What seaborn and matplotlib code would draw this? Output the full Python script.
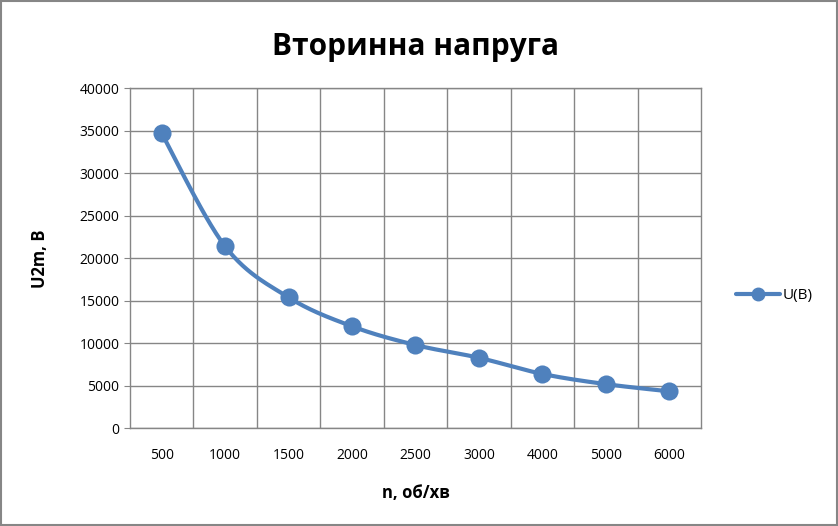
import numpy as np
import pandas as pd
import matplotlib
matplotlib.use("Agg")
import matplotlib.pyplot as plt
from matplotlib.lines import Line2D
from matplotlib.patches import Rectangle
from matplotlib.ticker import MultipleLocator, FixedLocator
import seaborn as sns

# data
speed = ["500", "1000", "1500", "2000", "2500", "3000", "4000", "5000", "6000"]
voltage = [34700, 21400, 15400, 12000, 9800, 8300, 6400, 5200, 4350]
series_name = "U(В)"
title = "Вторинна напруга"
x_label = "n, об/хв"
y_label = "U2m, В"

blue = "#4F81BD"
grid_gray = "#868686"

sns.set_style("white")
plt.rcParams["font.family"] = ["Open Sans", "DejaVu Sans"]
plt.rcParams["text.color"] = "black"
plt.rcParams["axes.labelcolor"] = "black"
plt.rcParams["xtick.color"] = "black"
plt.rcParams["ytick.color"] = "black"

df = pd.DataFrame({"pos": np.arange(len(speed)), "U": voltage})


def smooth_curve(x, y, steps=30):
    # excel-like smoothed line (bezier through the points)
    p = np.column_stack([x, y]).astype(float)
    p = np.vstack([p[0], p, p[-1]])
    out = []
    t = np.linspace(0, 1, steps)[:, None]
    for i in range(1, len(p) - 2):
        p0, p1, p2, p3 = p[i - 1], p[i], p[i + 1], p[i + 2]
        c1 = p1 + (p2 - p0) / 6
        c2 = p2 - (p3 - p1) / 6
        seg = ((1 - t) ** 3) * p1 + 3 * ((1 - t) ** 2) * t * c1 + 3 * (1 - t) * t ** 2 * c2 + t ** 3 * p2
        out.append(seg if i == 1 else seg[1:])
    out = np.vstack(out)
    return out[:, 0], out[:, 1]


fig = plt.figure(figsize=(8.38, 5.26), dpi=100)
fig.patches.append(Rectangle((0.0015, 0.002), 0.997, 0.996, transform=fig.transFigure,
                             fill=False, edgecolor="#868686", linewidth=1.5))
ax = fig.add_axes([0.1551, 0.1857, 0.6814, 0.6464])

sx, sy = smooth_curve(df["pos"].values, df["U"].values)
sns.lineplot(x=sx, y=sy, sort=False, estimator=None, color=blue, linewidth=3, ax=ax)
sns.scatterplot(data=df, x="pos", y="U", color=blue, s=170, edgecolor=blue, linewidth=0, ax=ax, zorder=3)

ax.set_xlim(-0.5, len(speed) - 0.5)
ax.set_ylim(0, 40000)
ax.yaxis.set_major_locator(MultipleLocator(5000))
ax.xaxis.set_major_locator(FixedLocator(df["pos"].values))
ax.set_xticklabels(speed)
ax.xaxis.set_minor_locator(FixedLocator(np.arange(len(speed) - 1) + 0.5))

ax.grid(axis="y", which="major", color=grid_gray, linewidth=1)
ax.grid(axis="x", which="minor", color=grid_gray, linewidth=1)
ax.set_axisbelow(True)
for s in ax.spines.values():
    s.set_color(grid_gray)
    s.set_linewidth(1)

ax.tick_params(axis="y", which="major", left=True, length=4.5, color=grid_gray,
               labelcolor="black", labelsize=10, pad=3)
ax.tick_params(axis="x", which="both", bottom=False, labelcolor="black", labelsize=10, pad=11)

ax.set_title(title, fontsize=21.5, fontweight="bold", pad=24, color="black")
ax.set_xlabel(x_label, fontsize=12, fontweight="bold", labelpad=15)
ax.set_ylabel(y_label, fontsize=12, fontweight="bold", labelpad=22)

handle = Line2D([0], [0], color=blue, linewidth=3, marker="o", markersize=9)
fig.legend([handle], [series_name], loc="center left", bbox_to_anchor=(0.862, 0.438),
           frameon=False, fontsize=11, handlelength=2.9, handletextpad=0.15)

fig.savefig("out.png", dpi=100)
